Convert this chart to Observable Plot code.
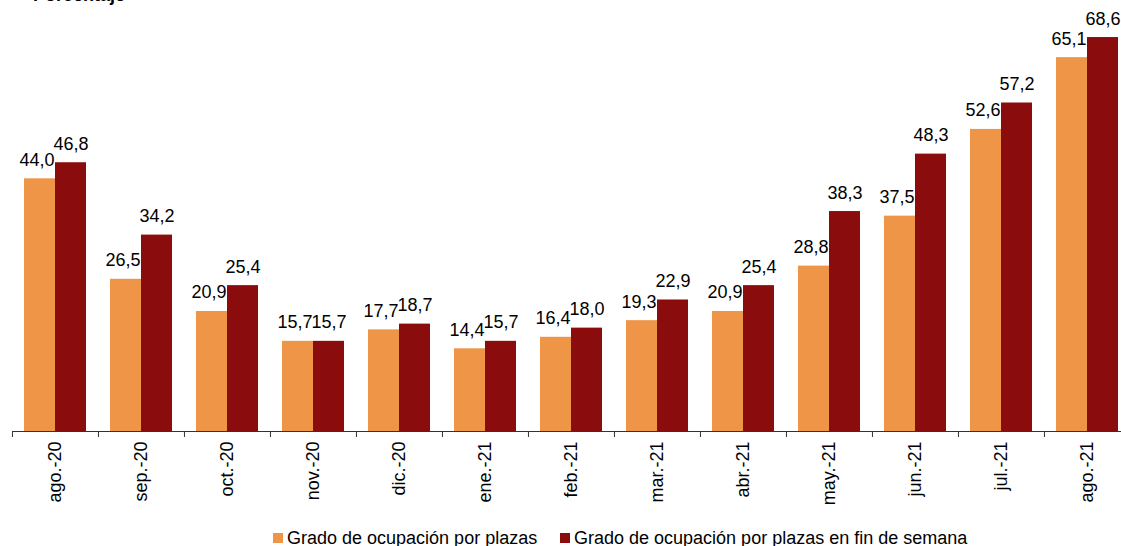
<!DOCTYPE html>
<html>
<head>
<meta charset="utf-8">
<script src="https://cdn.jsdelivr.net/npm/d3@7"></script>
<script src="https://cdn.jsdelivr.net/npm/@observablehq/plot@0.6"></script>
<style>
  html, body { margin: 0; padding: 0; background: #fff; overflow: hidden; }
  #wrap { position: relative; width: 1121px; height: 546px; font-family: "Liberation Sans", Arial, sans-serif; }
  #title { position: absolute; top: -14px; left: 33px; font-size: 18px; font-weight: bold; color: #000; line-height: 18px; white-space: nowrap; }
  #chart { position: absolute; top: 0; left: 0; }
  .leg { position: absolute; top: 528px; font-size: 18px; line-height: 20px; white-space: nowrap; }
  .leg .sw { position: absolute; top: 5px; width: 10px; height: 10px; }
  .leg .tx { position: absolute; left: 14px; top: 0; color: #000; }
</style>
</head>
<body>
<div id="wrap">
  <div id="chart"></div>
  <div id="title">Porcentaje</div>
  <div id="legend"></div>
</div>
<script>
const months = ["ago.-20","sep.-20","oct.-20","nov.-20","dic.-20","ene.-21","feb.-21","mar.-21","abr.-21","may.-21","jun.-21","jul.-21","ago.-21"];
const seriesNames = ["Grado de ocupación por plazas", "Grado de ocupación por plazas en fin de semana"];
const plazas = [44.0, 26.5, 20.9, 15.7, 17.7, 14.4, 16.4, 19.3, 20.9, 28.8, 37.5, 52.6, 65.1];
const finSemana = [46.8, 34.2, 25.4, 15.7, 18.7, 15.7, 18.0, 22.9, 25.4, 38.3, 48.3, 57.2, 68.6];
const colors = ["#EE9548", "#8B0C0C"];

const rows = [];
months.forEach((m, i) => {
  rows.push({month: m, series: seriesNames[0], value: plazas[i]});
  rows.push({month: m, series: seriesNames[1], value: finSemana[i]});
});
const fmt = v => v.toFixed(1).replace(".", ",");
const rowsA = rows.filter(d => d.series === seriesNames[0]);
const rowsB = rows.filter(d => d.series === seriesNames[1]);

const H = 515;
const plot = Plot.plot({
  width: 1121,
  height: H,
  marginTop: 29,
  marginBottom: H - 431,
  marginLeft: 11,
  marginRight: -9,
  style: {fontFamily: "'Liberation Sans', Arial, sans-serif", fontSize: "18px", color: "#000", background: "transparent", overflow: "visible"},
  fx: {domain: months, padding: 0},
  x: {domain: seriesNames, paddingInner: 0, paddingOuter: 0.35, axis: null},
  y: {domain: [0, 70], axis: null},
  color: {domain: seriesNames, range: colors},
  marks: [
    Plot.barY(rows, {fx: "month", x: "series", y: "value", fill: "series"}),
    Plot.ruleY([0], {stroke: "#333", strokeWidth: 1}),
    Plot.axisFx({anchor: "bottom", tickSize: 6, dx: -43.04, tickFormat: () => "", stroke: "#333", label: null}),
    Plot.axisFx({anchor: "bottom", tickSize: 0, tickPadding: 10, tickRotate: -90, textAnchor: "end", lineAnchor: "middle", fontSize: 18, fill: "#000", label: null}),
    Plot.text(rowsA, {fx: "month", x: "series", y: "value", text: d => fmt(d.value), lineAnchor: "bottom", dy: -13, dx: -3, fontSize: 18, fill: "#000"}),
    Plot.text(rowsB, {fx: "month", x: "series", y: "value", text: d => fmt(d.value), lineAnchor: "bottom", dy: -13, fontSize: 18, fill: "#000"})
  ]
});
document.getElementById("chart").appendChild(plot);

// legend
const legend = document.getElementById("legend");
const legX = [273, 560];
seriesNames.forEach((name, i) => {
  const item = document.createElement("div");
  item.className = "leg";
  item.style.left = legX[i] + "px";
  const sw = document.createElement("span");
  sw.className = "sw";
  sw.style.background = colors[i];
  const tx = document.createElement("span");
  tx.className = "tx";
  tx.textContent = name;
  item.appendChild(sw);
  item.appendChild(tx);
  legend.appendChild(item);
});
</script>
</body>
</html>
